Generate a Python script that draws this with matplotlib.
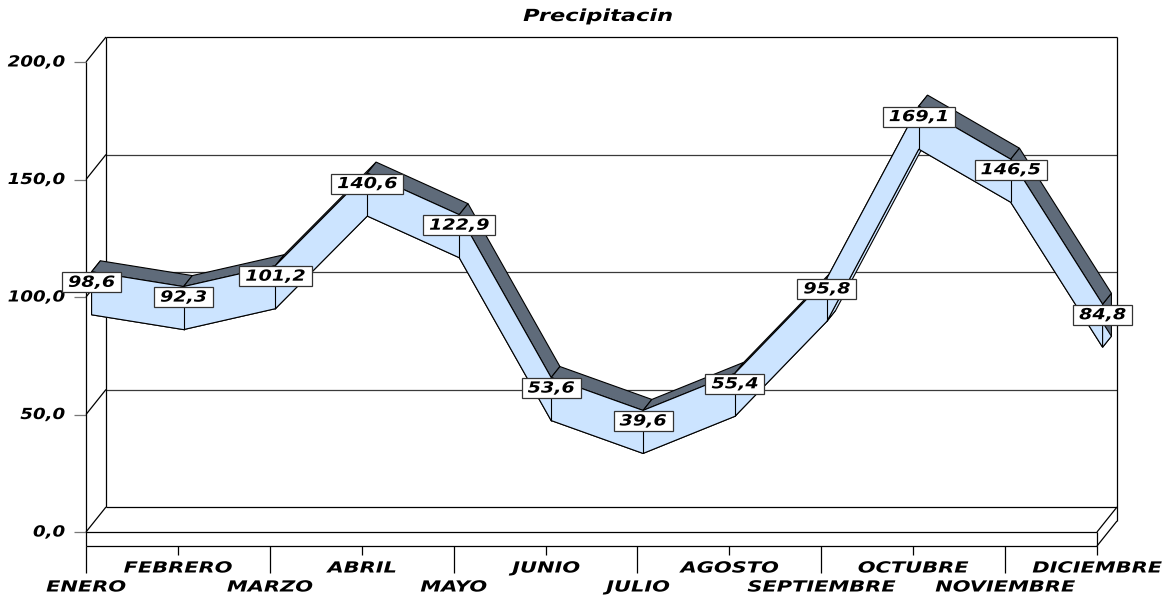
import matplotlib
matplotlib.use("Agg")
import matplotlib.pyplot as plt
import numpy as np
from matplotlib.patches import Polygon
from matplotlib.patheffects import AbstractPathEffect
from matplotlib.path import Path
from matplotlib.transforms import Affine2D

meses = ["ENERO", "FEBRERO", "MARZO", "ABRIL", "MAYO", "JUNIO", "JULIO",
         "AGOSTO", "SEPTIEMBRE", "OCTUBRE", "NOVIEMBRE", "DICIEMBRE"]
precip = [98.6, 92.3, 101.2, 140.6, 122.9, 53.6, 39.6, 55.4, 95.8, 169.1, 146.5, 84.8]
yticks = [0, 50, 100, 150, 200]
titulo = "Precipitacin"

AZUL = "#cce4ff"
GRIS = "#5f6b7a"
SX = 1.25   # horizontal text stretch

W, H = 1173, 596
fig = plt.figure(figsize=(W / 100, H / 100), dpi=100)
# the axes is the front plane of the 3d box
ax = fig.add_axes([86 / W, (H - 532) / H, (1097 - 86) / W, 470 / H])
ax.set_xlim(0, 11)
ax.set_ylim(0, 200)
ax.axis("off")

PXX = (1097 - 86) / 11.0   # px per category
PXY = 470 / 200.0          # px per value unit
DX, DY = 20 / PXX, 25 / PXY     # full box depth in data units
SLAB = 14 / PXY                 # floor thickness
DF, DB = 0.28, 0.72             # ribbon depth (front, back)
HH = 21.5 / PXY                 # ribbon half height


class Stretch(AbstractPathEffect):
    """widen glyphs horizontally around an anchor"""
    def __init__(self, sx, anchor="center"):
        super().__init__()
        self.sx = sx
        self.anchor = anchor

    def draw_path(self, renderer, gc, tpath, affine, rgbFace=None):
        ext = tpath.get_extents()
        if self.anchor == "right":
            x0 = ext.x1
        elif self.anchor == "left":
            x0 = ext.x0
        else:
            x0 = (ext.x0 + ext.x1) / 2
        t = Affine2D().translate(-x0, 0).scale(self.sx, 1).translate(x0, 0) + affine
        renderer.draw_path(gc, tpath, t, rgbFace)


def wide_box(x0, y0, width, height, mutation_size):
    cx = x0 + width / 2
    w = width * SX + 12
    h = height + 5
    yb = y0 + height / 2 - h / 2
    verts = [(cx - w / 2, yb), (cx + w / 2, yb), (cx + w / 2, yb + h),
             (cx - w / 2, yb + h), (cx - w / 2, yb)]
    return Path(verts, closed=True)


font = dict(family="DejaVu Sans", weight="bold", style="italic", size=11)


def prof(x, y, d):
    return np.asarray(x, float) + d * DX, np.asarray(y, float) + d * DY


def line(xs, ys, color="black", lw=0.9, z=1):
    ax.plot(xs, ys, color=color, lw=lw, clip_on=False, zorder=z,
            solid_capstyle="butt")


n = len(meses)
xl = n - 1

# back wall, gridlines and left wall
for v in yticks:
    bx, by = prof([0, xl], [v, v], 1)
    line(bx, by, color="black" if v in (0, 200) else "#3a3a3a")
    dx, dy = prof(0, v, 1)
    line([0, dx], [v, dy])
    line([-12 / PXX, 0], [v, v], color="#777777")
    ax.annotate(f"{v:.1f}".replace(".", ","), xy=(0, v), xytext=(-21, 0),
                textcoords="offset pixels", ha="right", va="center",
                annotation_clip=False, **font,
                path_effects=[Stretch(1.19, "right")])
bx, by = prof([0, 0], [0, 200], 1)
line(bx, by)
bx, by = prof([xl, xl], [200, -SLAB], 1)
line(bx, by)

# floor slab
line([0, xl], [0, 0])
line([0, xl], [-SLAB, -SLAB])
line([0, 0], [200, -SLAB])
line([xl, xl], [0, -SLAB])
for v in (0, -SLAB):
    dx, dy = prof(xl, v, 1)
    line([xl, dx], [v, dy])

# category ticks and staggered labels
for i, mes in enumerate(meses):
    largo = 27 if i % 2 == 0 else 9
    line([i, i], [-SLAB, -SLAB - largo / PXY])
    off = -41 if i % 2 == 0 else -22
    ax.annotate(mes, xy=(i, -SLAB), xytext=(0, off), textcoords="offset pixels",
                ha="center", va="center", annotation_clip=False, **font,
                path_effects=[Stretch(1.37)])

# ribbon
x = np.arange(n)
v = np.array(precip)
tfx, tfy = prof(x, v + HH, DF)
bfx, bfy = prof(x, v - HH, DF)
tbx, tby = prof(x, v + HH, DB)
bbx, bby = prof(x, v - HH, DB)

ekw = dict(edgecolor="black", lw=0.8, clip_on=False, joinstyle="miter")
for i in (0, xl):
    ax.add_patch(Polygon([(tfx[i], tfy[i]), (tbx[i], tby[i]), (bbx[i], bby[i]),
                          (bfx[i], bfy[i])], facecolor=GRIS, zorder=3, **ekw))
for i in range(xl):
    ax.add_patch(Polygon([(bfx[i], bfy[i]), (bfx[i + 1], bfy[i + 1]),
                          (bbx[i + 1], bby[i + 1]), (bbx[i], bby[i])],
                         facecolor=AZUL, zorder=4, **ekw))
for i in range(xl):
    ax.add_patch(Polygon([(tfx[i], tfy[i]), (tfx[i + 1], tfy[i + 1]),
                          (tbx[i + 1], tby[i + 1]), (tbx[i], tby[i])],
                         facecolor=GRIS, zorder=5, **ekw))
frente = list(zip(tfx, tfy)) + list(zip(bfx[::-1], bfy[::-1]))
ax.add_patch(Polygon(frente, facecolor=AZUL, zorder=6, **ekw))
for i in range(1, xl):
    line([tfx[i], bfx[i]], [tfy[i], bfy[i]], lw=0.8, z=7)

# value labels
cx, cy = prof(x, v, DF)
for i, p in enumerate(precip):
    ax.annotate(f"{p:.1f}".replace(".", ","), xy=(cx[i], cy[i]), xytext=(0, 11),
                textcoords="offset pixels", ha="center", va="center",
                annotation_clip=False, zorder=10, **font,
                path_effects=[Stretch(SX)],
                bbox=dict(boxstyle=wide_box, fc="white", ec="#333333", lw=0.9))

fig.text(598 / W, 1 - 16 / H, titulo, ha="center", va="center",
         **{**font, "size": 12}, path_effects=[Stretch(1.35)])

fig.savefig("out.png", dpi=100)
